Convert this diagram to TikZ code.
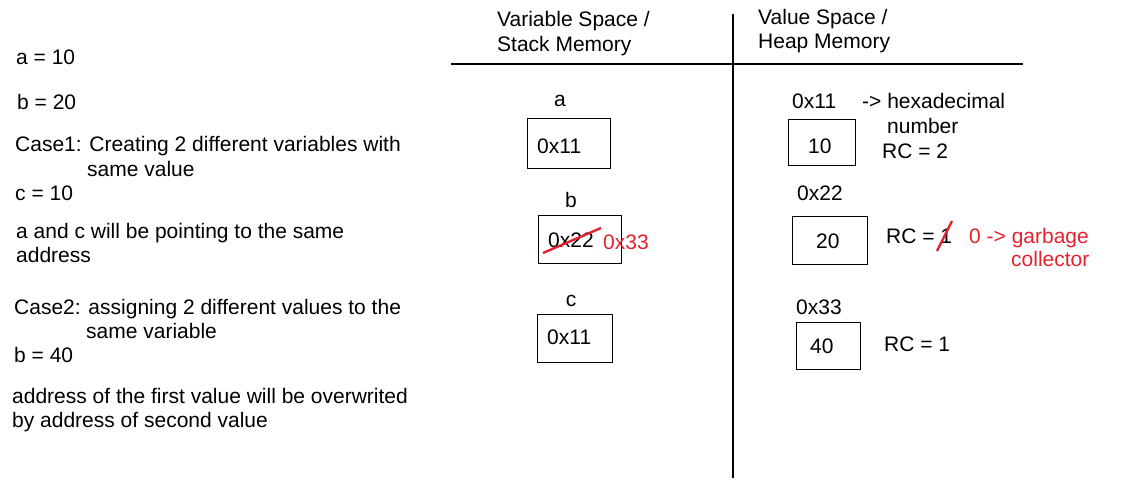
\documentclass[tikz,border=0pt]{standalone}
\usepackage{fontspec}
\setmainfont{Liberation Sans}
\usepackage{tikz}
\definecolor{inkred}{RGB}{226,35,47}
\tikzset{
  txt/.style={anchor=base west, inner sep=0pt, font=\fontsize{21}{24.5}\selectfont},
  lbl/.style={txt, anchor=base},
  cell/.style={draw, line width=1pt, inner sep=0pt},
  rule/.style={line width=1.5pt},
  strike/.style={inkred, line width=2.4pt},
}
\begin{document}
\begin{tikzpicture}[x=1pt, y=-1pt]
 \useasboundingbox (0,0) rectangle (1137,479);
 % left column: the code and the notes
 \node[txt] (ta)    at (16,64)  {a = 10};
 \node[txt] (tb)    at (17,109) {b = 20};
 \node[txt] (case1) at (15,151) {Case1: Creating 2 different variables with};
 \node[txt] (case1b) at (87,176) {same value};
 \node[txt] (tc)    at (15,200) {c = 10};
 \node[txt] (note1) at (16,238) {a and c will be pointing to the same};
 \node[txt] (note1b) at (16,262) {address};
 \node[txt] (case2) at (14,314) {Case2: assigning 2 different values to the};
 \node[txt] (case2b) at (86,338) {same variable};
 \node[txt] (tb2)   at (14,362) {b = 40};
 \node[txt] (note2) at (12,403) {address of the first value will be overwrited};
 \node[txt] (note2b) at (12,427) {by address of second value};

 % headers and dividing lines
 \node[txt] (stack)  at (497,27) {Variable Space /};
 \node[txt] (stackb) at (497,51) {Stack Memory};
 \node[txt] (heap)   at (758,24) {Value Space /};
 \node[txt] (heapb)  at (758,48) {Heap Memory};
 \coordinate (hl) at (451,64);
 \coordinate (hr) at (1023,64);
 \coordinate (vt) at (733,14);
 \coordinate (vb) at (733,478);
 \draw[rule] (hl) -- (hr);
 \draw[rule] (vt) -- (vb);

 % stack: variables
 \node[lbl] (va) at (560,106) {a};
 \node[cell, minimum width=83pt, minimum height=50pt] (boxa) at (568.5,143) {};
 \node[txt] (adra) at (537,153) {0x11};
 \node[lbl] (vb) at (571,207) {b};
 \node[cell, minimum width=83pt, minimum height=48pt] (boxb) at (579.5,239) {};
 \node[txt] (adrb) at (548,247) {0x22};
 \node[txt, text=inkred] (adrbn) at (603,249) {0x33};
 \node[lbl] (vc) at (571,306) {c};
 \node[cell, minimum width=75pt, minimum height=48pt] (boxc) at (574.5,338) {};
 \node[txt] (adrc) at (547,344) {0x11};

 % heap: values
 \node[txt] (h11) at (792,108) {0x11};
 \node[txt] (hexa) at (862,108) {-> hexadecimal};
 \node[txt] (hexb) at (887,133) {number};
 \node[cell, minimum width=67pt, minimum height=46pt] (box10) at (821.5,142) {};
 \node[txt] (v10) at (808,153) {10};
 \node[txt] (rc10) at (882,158) {RC = 2};
 \node[txt] (h22) at (797,200) {0x22};
 \node[cell, minimum width=75pt, minimum height=48pt] (box20) at (829.5,240) {};
 \node[txt] (v20) at (816,248) {20};
 \node[txt] (rc20) at (886,243) {RC = 1};
 \node[txt, text=inkred] (gc) at (969,243) {0 -> garbage};
 \node[txt, text=inkred] (gcb) at (1011,266) {collector};
 \node[txt] (h33) at (796,314) {0x33};
 \node[cell, minimum width=64pt, minimum height=47pt] (box40) at (828,345.5) {};
 \node[txt] (v40) at (810,353) {40};
 \node[txt] (rc40) at (884,351) {RC = 1};

 % crossed out values
 \coordinate (s1) at (543,253);
 \coordinate (s2) at (601,228);
 \coordinate (s3) at (937,251);
 \coordinate (s4) at (952,221);
 \draw[strike] (s1) -- (s2);
 \draw[strike] (s3) -- (s4);
\end{tikzpicture}
\end{document}
